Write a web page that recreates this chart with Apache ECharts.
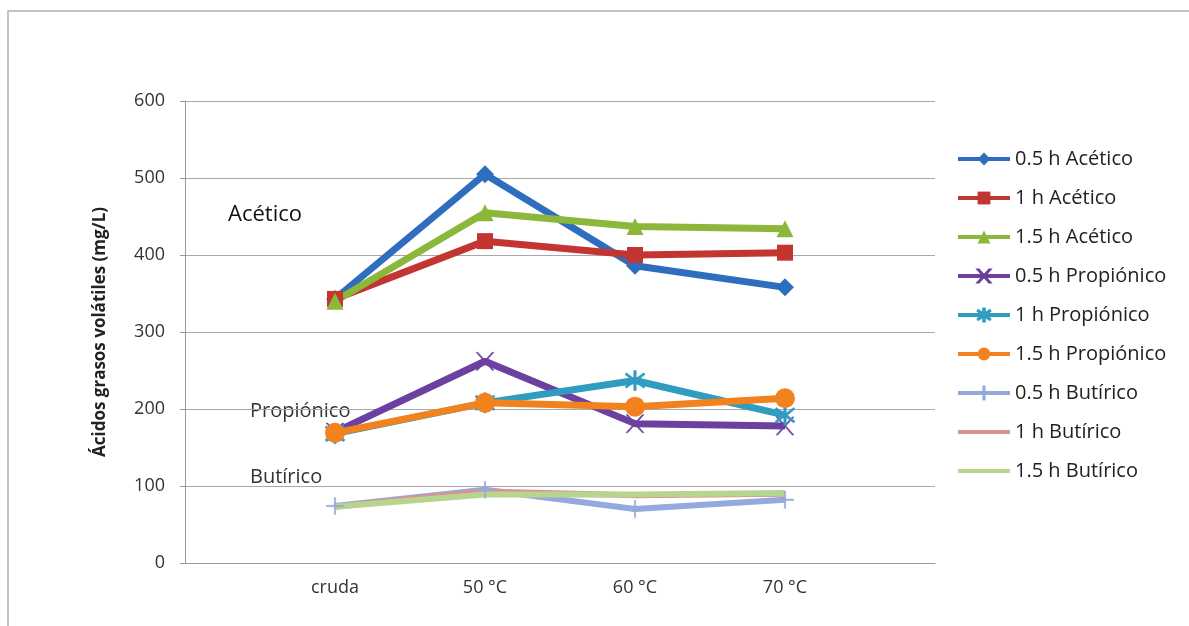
<!DOCTYPE html>
<html><head><meta charset="utf-8">
<script src="https://cdn.jsdelivr.net/npm/echarts@6/dist/echarts.min.js"></script>
<style>html,body{margin:0;padding:0;background:#fff}#c{width:1189px;height:626px}</style>
</head><body><div id="c"></div>
<script>
const categories = ["", "cruda", "50 °C", "60 °C", "70 °C", " "];
const yTicks = [0, 100, 200, 300, 400, 500, 600];
const seriesNames = ["0.5 h Acético","1 h Acético","1.5 h Acético","0.5 h Propiónico","1 h Propiónico","1.5 h Propiónico","0.5 h Butírico","1 h Butírico","1.5 h Butírico"];
const acetico05 = [null, 343, 505, 386, 358, null];
const acetico10 = [null, 343, 418, 400, 403, null];
const acetico15 = [null, 340, 455, 437, 434, null];
const propionico05 = [null, 170, 262, 181, 178, null];
const propionico10 = [null, 168, 208, 237, 192, null];
const propionico15 = [null, 169, 208, 203, 214, null];
const butirico05 = [null, 74, 95, 70, 82, null];
const butirico10 = [null, 73, 93, 88, 90, null];
const butirico15 = [null, 73, 89, 89, 91, null];
const groupLabels = ["Acético", "Propiónico", "Butírico"];

const values = [acetico05, acetico10, acetico15, propionico05, propionico10, propionico15, butirico05, butirico10, butirico15];
const colors = ["#2F6EBF","#C23531","#8BB73A","#6B40A0","#2F9CC0","#F2821E","#94A9DC","#DC9090","#B7D58E"];
const symbols = ["diamond","rect","triangle","x","star","circle","plus","none","none"];
const sizes = [18, 16, 17, 18, 20, 20, 17, 0, 0];
const widths = [7, 7, 7, 7, 7, 7, 6, 6, 6];

const xPath = 'path://M0,0 L2,0 L10,8 L18,0 L20,0 L11,9 L20,18 L18,18 L10,10 L2,18 L0,18 L9,9 Z';
const starPath = 'path://M9,0 L11,0 L11,7 L17,2 L18,3.5 L12,9 L18,14.5 L17,16 L11,11 L11,18 L9,18 L9,11 L3,16 L2,14.5 L8,9 L2,3.5 L3,2 L9,7 Z';
const plusPath = 'path://M9.2,0 L10.8,0 L10.8,8.2 L20,8.2 L20,9.8 L10.8,9.8 L10.8,18 L9.2,18 L9.2,9.8 L0,9.8 L0,8.2 L9.2,8.2 Z';
const lineIcon = 'path://M0,0 L0.01,0 L0.01,0.01 Z M0,6 L52,6 L52,10 L0,10 Z M0,16 L0.01,16 L0.01,15.99 Z';
function sym(s){ if(s==='x') return xPath; if(s==='star') return starPath; if(s==='plus') return plusPath; return s; }

const chart = echarts.init(document.getElementById('c'), null, {renderer:'canvas'});
const series = seriesNames.map((n,i)=>({
  name:n, type:'line', data:values[i], connectNulls:false,
  symbol: sym(symbols[i]), symbolSize: sizes[i], showSymbol: symbols[i]!=='none',
  lineStyle:{color:colors[i], width:widths[i]},
  itemStyle:{color:colors[i], borderColor:colors[i], borderWidth: (symbols[i]==='x'||symbols[i]==='star'||symbols[i]==='plus')?0.5:0}
}));
const legendData = seriesNames.map((n,i)=> symbols[i]==='none' ? {name:n, icon:lineIcon} : {name:n});

chart.setOption({
  animation:false,
  backgroundColor:'#fff',
  grid:{left:185, right:254, top:101, bottom:63},
  xAxis:{type:'category', data:categories, boundaryGap:false,
    axisLine:{show:true, lineStyle:{color:'#9a9a9a', width:1}},
    axisTick:{show:false},
    axisLabel:{color:'#333', fontSize:18, fontFamily:'Open Sans', margin:16},
    splitLine:{show:false}},
  yAxis:{type:'value', min:yTicks[0], max:yTicks[yTicks.length-1], interval:100,
    name:'Ácidos grasos volátiles (mg/L)', nameLocation:'middle', nameGap:76, nameRotate:90,
    nameTextStyle:{fontSize:17, fontWeight:'bold', color:'#222', fontFamily:'Open Sans'},
    axisLine:{show:true, lineStyle:{color:'#9a9a9a', width:1}},
    axisTick:{show:true, length:5, lineStyle:{color:'#9a9a9a'}},
    axisLabel:{color:'#333', fontSize:18, fontFamily:'Open Sans', margin:20},
    splitLine:{show:true, lineStyle:{color:'#a8a8a8', width:1}}},
  legend:{orient:'vertical', left:951, top:144, itemGap:19, itemWidth:52, itemHeight:16,
    lineStyle:{width:4},
    data:legendData, textStyle:{fontSize:20, color:'#222', fontFamily:'Open Sans'}},
  graphic:[
    {type:'rect', shape:{x:8, y:11, width:1200, height:640}, style:{fill:'none', stroke:'#b0b0b0', lineWidth:1.5}, silent:true},
    {type:'text', left:228, top:204, style:{text:groupLabels[0], fontSize:22, fill:'#111', fontFamily:'Open Sans'}},
    {type:'text', left:250, top:401, style:{text:groupLabels[1], fontSize:20, fill:'#333', fontFamily:'Open Sans'}},
    {type:'text', left:250, top:467, style:{text:groupLabels[2], fontSize:20, fill:'#333', fontFamily:'Open Sans'}}
  ],
  series: series
});
</script></body></html>
